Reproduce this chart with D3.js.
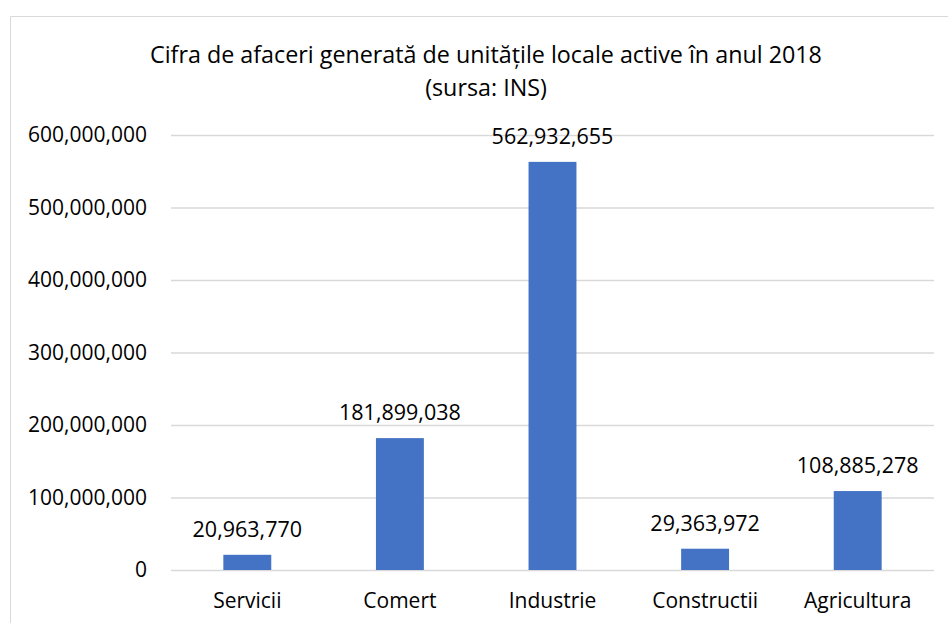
<!DOCTYPE html>
<html lang="ro">
<head>
<meta charset="utf-8">
<script src="https://cdn.jsdelivr.net/npm/d3@7"></script>
<title>Cifra de afaceri 2018</title>
<style>
  body { margin: 0; background: #fff; }
  text { font-family: "Open Sans", "Noto Sans", sans-serif; fill: #000; }
</style>
</head>
<body>
<svg width="948" height="623"></svg>
<script>
// data
var categories = ["Servicii", "Comert", "Industrie", "Constructii", "Agricultura"];
var values = [20963770, 181899038, 562932655, 29363972, 108885278];
var yTicks = [0, 100000000, 200000000, 300000000, 400000000, 500000000, 600000000];
var titleLines = ["Cifra de afaceri generată de unitățile locale active în anul 2018", "(sursa: INS)"];

var svg = d3.select("svg");

// chart border (cropped on right and bottom)
svg.append("path")
  .attr("d", "M10.5,623 V16.5 H948")
  .attr("fill", "none")
  .attr("stroke", "#d9d9d9")
  .attr("stroke-width", 1);

var margin = {top: 135, left: 171, right: 14, bottom: 53};
var width = 948 - margin.left - margin.right;
var height = 623 - margin.top - margin.bottom;

var g = svg.append("g")
  .attr("transform", "translate(" + margin.left + "," + margin.top + ")");

var x = d3.scaleBand()
  .domain(categories)
  .range([0, width])
  .paddingInner(0.686)
  .paddingOuter(0.343);

var y = d3.scaleLinear()
  .domain([0, 600000000])
  .range([height, 0]);

var fmt = d3.format(",");

// gridlines + y labels
var yAxis = g.append("g")
  .call(d3.axisLeft(y).tickValues(yTicks).tickFormat(fmt).tickSize(-width).tickPadding(24));
yAxis.select(".domain").remove();
yAxis.selectAll(".tick line").attr("stroke", "#d9d9d9").attr("stroke-width", 1.3);
yAxis.selectAll(".tick text")
  .attr("font-size", 21)
  .attr("font-family", "'Open Sans', sans-serif")
  .attr("fill", "#000");

// x labels
var xAxis = g.append("g")
  .attr("transform", "translate(0," + height + ")")
  .call(d3.axisBottom(x).tickSize(0).tickPadding(23));
xAxis.select(".domain").remove();
xAxis.selectAll(".tick text")
  .attr("font-size", 21)
  .attr("font-family", "'Open Sans', sans-serif")
  .attr("fill", "#000");

// bars
g.selectAll(".bar")
  .data(values)
  .enter().append("rect")
  .attr("class", "bar")
  .attr("x", function(d, i) { return x(categories[i]); })
  .attr("width", x.bandwidth())
  .attr("y", function(d) { return y(d); })
  .attr("height", function(d) { return height - y(d); })
  .attr("fill", "#4472c4");

// data labels
g.selectAll(".lbl")
  .data(values)
  .enter().append("text")
  .attr("class", "lbl")
  .attr("x", function(d, i) { return x(categories[i]) + x.bandwidth() / 2; })
  .attr("y", function(d) { return y(d) - 18; })
  .attr("text-anchor", "middle")
  .attr("font-size", 21.5)
  .text(function(d) { return fmt(d); });

// title
svg.selectAll(".title")
  .data(titleLines)
  .enter().append("text")
  .attr("class", "title")
  .attr("x", 486)
  .attr("y", function(d, i) { return 63 + i * 33; })
  .attr("text-anchor", "middle")
  .attr("font-size", 23.3)
  .text(function(d) { return d; });
</script>
</body>
</html>
